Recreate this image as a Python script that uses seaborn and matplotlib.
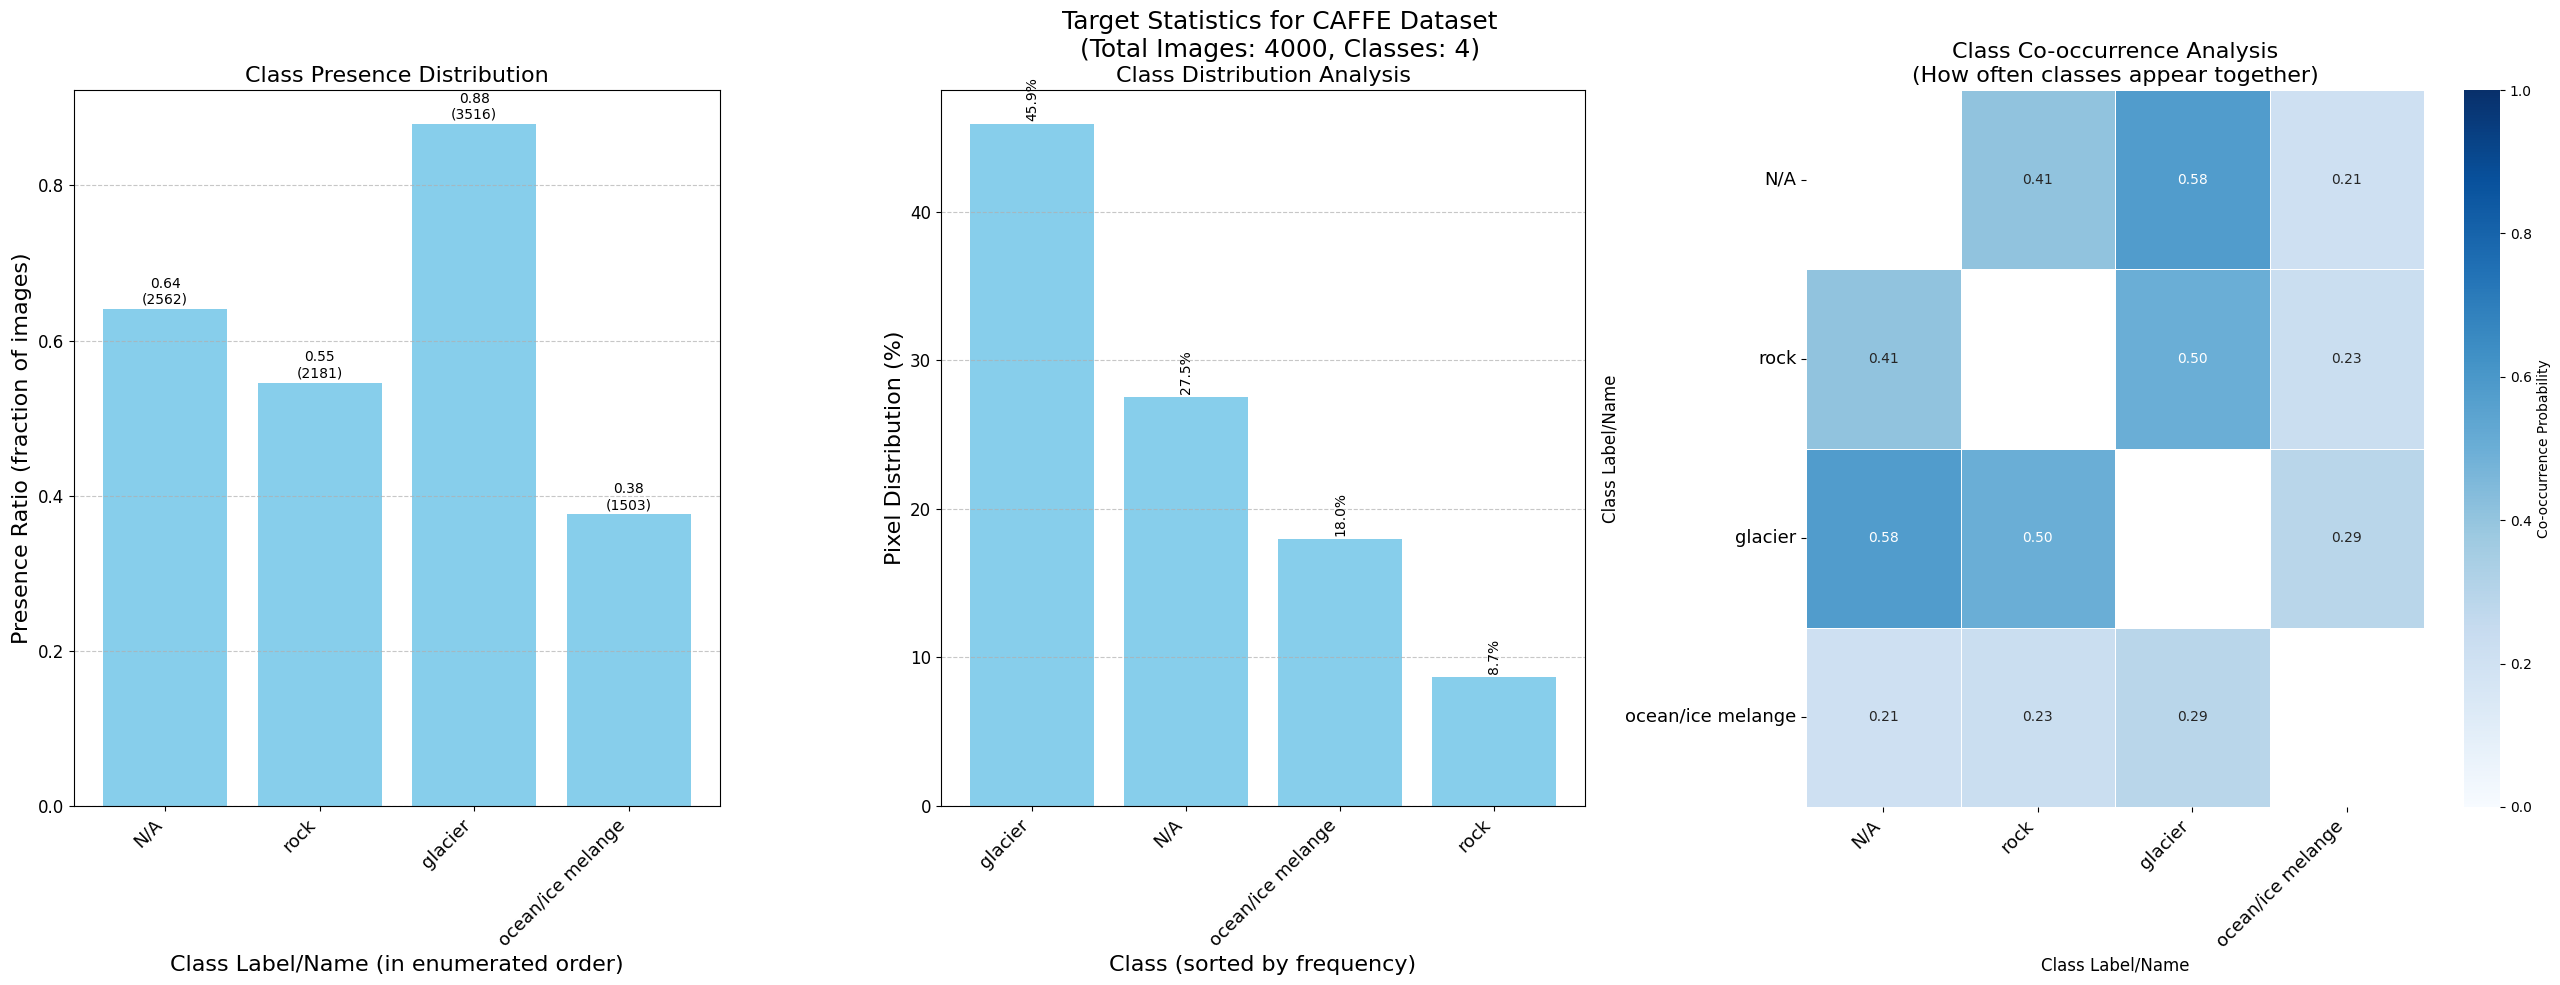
import numpy as np
import pandas as pd
import matplotlib
matplotlib.use("Agg")
import matplotlib.pyplot as plt
import seaborn as sns

# ---- data ----
classes = ["N/A", "rock", "glacier", "ocean/ice melange"]
presence_counts = [2562, 2181, 3516, 1503]
presence_ratio = [0.6405, 0.5453, 0.8790, 0.3758]

sorted_classes = ["glacier", "N/A", "ocean/ice melange", "rock"]
pixel_pct = [45.9, 27.5, 18.0, 8.7]

cooc = [
    [np.nan, 0.41, 0.58, 0.21],
    [0.41, np.nan, 0.50, 0.23],
    [0.58, 0.50, np.nan, 0.29],
    [0.21, 0.23, 0.29, np.nan],
]
total_images = 4000
n_classes = 4

W, H = 2560, 985
fig = plt.figure(figsize=(W / 100, H / 100), dpi=100)

def pos(x0, x1, y0, y1):
    return [x0 / W, 1 - y1 / H, (x1 - x0) / W, (y1 - y0) / H]

ax1 = fig.add_axes(pos(74, 720, 90, 806))
ax2 = fig.add_axes(pos(941, 1585, 90, 806))
ax3 = fig.add_axes(pos(1806, 2424, 90, 807))
cax = fig.add_axes(pos(2464, 2500, 90, 807))

bar_color = "skyblue"

# ---- left: presence ----
df1 = pd.DataFrame({"cls": classes, "ratio": presence_ratio, "count": presence_counts})
sns.barplot(data=df1, x="cls", y="ratio", order=classes, color=bar_color,
            saturation=1, width=0.8, ax=ax1)
ax1.set_xlim(-0.59, 3.59)
ax1.set_ylim(0, max(presence_ratio) * 1.05)
for i, (r, c) in enumerate(zip(presence_ratio, presence_counts)):
    ax1.text(i, r + 0.003, f"{r:.2f}\n({c})", ha="center", va="bottom", fontsize=10)
ax1.set_title("Class Presence Distribution", fontsize=16)
ax1.set_xlabel("Class Label/Name (in enumerated order)", fontsize=16)
ax1.set_ylabel("Presence Ratio (fraction of images)", fontsize=16)
ax1.tick_params(axis="y", labelsize=12)
ax1.tick_params(axis="x", labelsize=13)
plt.setp(ax1.get_xticklabels(), rotation=45, ha="right")
ax1.grid(axis="y", linestyle="--", alpha=0.7)

# ---- middle: pixel distribution ----
df2 = pd.DataFrame({"cls": sorted_classes, "pct": pixel_pct})
sns.barplot(data=df2, x="cls", y="pct", order=sorted_classes, color=bar_color,
            saturation=1, width=0.8, ax=ax2)
ax2.set_xlim(-0.59, 3.59)
ax2.set_ylim(0, max(pixel_pct) * 1.05)
for i, v in enumerate(pixel_pct):
    ax2.text(i, v + 0.2, f"{v:.1f}%", ha="center", va="bottom", rotation=90, fontsize=10)
ax2.set_title("Class Distribution Analysis", fontsize=16)
ax2.set_xlabel("Class (sorted by frequency)", fontsize=16)
ax2.set_ylabel("Pixel Distribution (%)", fontsize=16)
ax2.tick_params(axis="y", labelsize=12)
ax2.tick_params(axis="x", labelsize=13)
plt.setp(ax2.get_xticklabels(), rotation=45, ha="right")
ax2.grid(axis="y", linestyle="--", alpha=0.7)

# ---- right: co-occurrence heatmap ----
cm = pd.DataFrame(cooc, index=classes, columns=classes)
sns.heatmap(cm, annot=True, fmt=".2f", cmap="Blues", vmin=0, vmax=1,
            linewidths=0.5, linecolor="white", ax=ax3, cbar_ax=cax,
            annot_kws={"fontsize": 10},
            cbar_kws={"label": "Co-occurrence Probability"})
ax3.set_title("Class Co-occurrence Analysis\n(How often classes appear together)", fontsize=16)
ax3.set_xlabel("Class Label/Name", fontsize=12)
ax3.set_ylabel("Class Label/Name", fontsize=12)
ax3.tick_params(axis="both", labelsize=13)
plt.setp(ax3.get_xticklabels(), rotation=45, ha="right")
plt.setp(ax3.get_yticklabels(), rotation=0)
cax.tick_params(labelsize=10)
cax.yaxis.label.set_size(10)

fig.suptitle(f"Target Statistics for CAFFE Dataset\n(Total Images: {total_images}, Classes: {n_classes})",
             fontsize=18, y=0.99, va="top")

fig.savefig("out.png", dpi=100)
